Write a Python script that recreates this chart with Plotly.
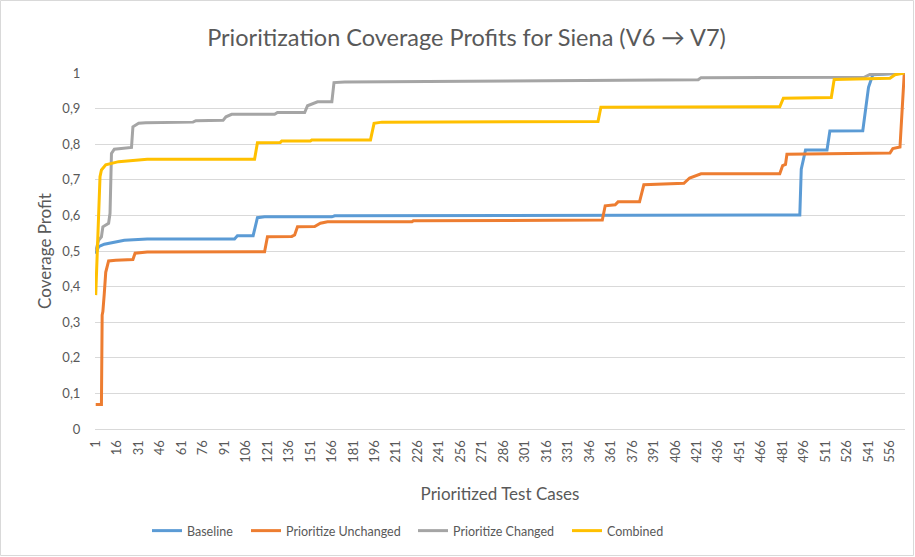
import plotly.graph_objects as go

# ---- data (test-case index, coverage profit) ----
baseline_x = [1, 3, 7, 12, 21, 37, 98, 100, 111, 114, 119, 166, 168, 493, 494, 497, 512, 514, 537, 541, 544, 566]
baseline_y = [0.492, 0.512, 0.519, 0.523, 0.530, 0.534, 0.534, 0.543, 0.543, 0.5935, 0.596, 0.596, 0.599, 0.601, 0.73, 0.784, 0.784, 0.837, 0.838, 0.96, 0.995, 1.0]

unchanged_x = [1, 5, 5.5, 6, 7, 8, 10, 15, 27, 28.5, 37, 119, 121, 138, 140, 142, 154, 158, 163, 222, 223,
               309, 311, 355, 357, 364, 366, 381, 384, 412, 416, 424, 479, 481, 483, 484, 556, 558, 563, 566]
unchanged_y = [0.069, 0.069, 0.32, 0.33, 0.381, 0.44, 0.472, 0.474, 0.476, 0.494, 0.497, 0.498, 0.540, 0.541, 0.545, 0.568, 0.569, 0.578, 0.582, 0.582, 0.585,
               0.585, 0.587, 0.587, 0.627, 0.630, 0.638, 0.638, 0.686, 0.690, 0.705, 0.717, 0.717, 0.74, 0.743, 0.772, 0.775, 0.788, 0.792, 1.0]

changed_x = [1, 3, 5, 6, 10, 11, 12, 14, 26, 27, 31, 36, 69, 71, 90, 92, 96, 126, 128, 147, 149, 156, 166, 167.5, 175,
             231, 233, 339, 341, 422, 424, 538, 542, 566]
changed_y = [0.50, 0.53, 0.54, 0.568, 0.578, 0.606, 0.774, 0.786, 0.791, 0.849, 0.859, 0.860, 0.862, 0.866, 0.867, 0.877, 0.884, 0.884, 0.889, 0.889, 0.908, 0.919, 0.919, 0.973, 0.975,
             0.976, 0.978, 0.978, 0.980, 0.981, 0.987, 0.988, 0.996, 1.0]

combined_x = [1, 4, 5, 8, 17, 37, 112, 114, 130, 131, 151, 152, 193, 195.5, 201, 352, 354, 479, 481.5, 515, 517, 556, 559.5, 566]
combined_y = [0.376, 0.709, 0.7275, 0.742, 0.751, 0.7575, 0.7575, 0.804, 0.805, 0.809, 0.809, 0.812, 0.812, 0.8586, 0.862, 0.864, 0.9036, 0.905, 0.929, 0.931, 0.982, 0.985, 0.995, 1.0]

x_tick_vals = list(range(1, 557, 15))
x_tick_text = [str(v) for v in x_tick_vals]
y_tick_vals = [0, 0.1, 0.2, 0.3, 0.4, 0.5, 0.6, 0.7, 0.8, 0.9, 1]

series = [
    ("Baseline", baseline_x, baseline_y, "#5B9BD5"),
    ("Prioritize Unchanged", unchanged_x, unchanged_y, "#ED7D31"),
    ("Prioritize Changed", changed_x, changed_y, "#A5A5A5"),
    ("Combined", combined_x, combined_y, "#FFC000"),
]

FONT = "Lato"
TXT = "#595959"

W, H = 915, 557
L, R, T, B = 95, 10, 73, 128
pw, ph = W - L - R, H - T - B

legend_names = ["legend", "legend2", "legend3", "legend4"]
legend_px = [153, 252, 419, 573]  # left edge of each legend line in the reference

fig = go.Figure()
for (name, xs, ys, col), lg in zip(series, legend_names):
    fig.add_trace(go.Scatter(x=xs, y=ys, mode="lines", name=name, legend=lg,
                             line=dict(color=col, width=3)))

legend_common = dict(orientation="h", xanchor="left", yanchor="middle",
                     y=(T + ph - 531) / ph, font=dict(size=12.5, color=TXT),
                     itemwidth=30, bgcolor="rgba(0,0,0,0)")
legends = {lg: dict(legend_common, x=(px - 6 - L) / pw) for lg, px in zip(legend_names, legend_px)}

fig.update_layout(
    width=W, height=H,
    margin=dict(l=L, r=R, t=T, b=B, autoexpand=False),
    paper_bgcolor="white", plot_bgcolor="white",
    separators=", ",
    font=dict(family=FONT, color=TXT, size=13),
    title=dict(text="Prioritization Coverage Profits for Siena (V6 → V7)",
               x=466.5 / W, xanchor="center", y=1 - 38 / H, yanchor="middle",
               font=dict(size=23.5, color=TXT, family=FONT)),
    showlegend=True,
    **legends,
    xaxis=dict(range=[0.5, 566.5], tickmode="array", tickvals=x_tick_vals,
               ticktext=x_tick_text, tickangle=-90, showgrid=False,
               showline=True, linecolor="#D9D9D9", linewidth=1, automargin=False,
               ticks="outside", ticklen=5, tickcolor="rgba(0,0,0,0)",
               tickfont=dict(size=13, color=TXT), zeroline=False,
               title=dict(text="Prioritized Test Cases", font=dict(size=17, color=TXT), standoff=26)),
    yaxis=dict(range=[0, 1], tickmode="array", tickvals=y_tick_vals,
               showgrid=True, gridcolor="#D9D9D9", gridwidth=1, zeroline=False,
               automargin=False,
               ticks="outside", ticklen=11, tickcolor="rgba(0,0,0,0)",
               tickfont=dict(size=13, color=TXT),
               title=dict(text="Coverage Profit", font=dict(size=17, color=TXT), standoff=6)),
)

# chart-area border
fig.add_shape(type="rect", xref="paper", yref="paper",
              x0=(0.5 - L) / pw, x1=(W - 1.5 - L) / pw,
              y0=(T + ph - (H - 1.5)) / ph, y1=(T + ph - 0.5) / ph,
              line=dict(color="#D9D9D9", width=1), fillcolor="rgba(0,0,0,0)", layer="below")

fig.write_html("out.html", config={"displayModeBar": False},
               post_script="document.body.style.margin='0';document.body.style.overflow='hidden';")
